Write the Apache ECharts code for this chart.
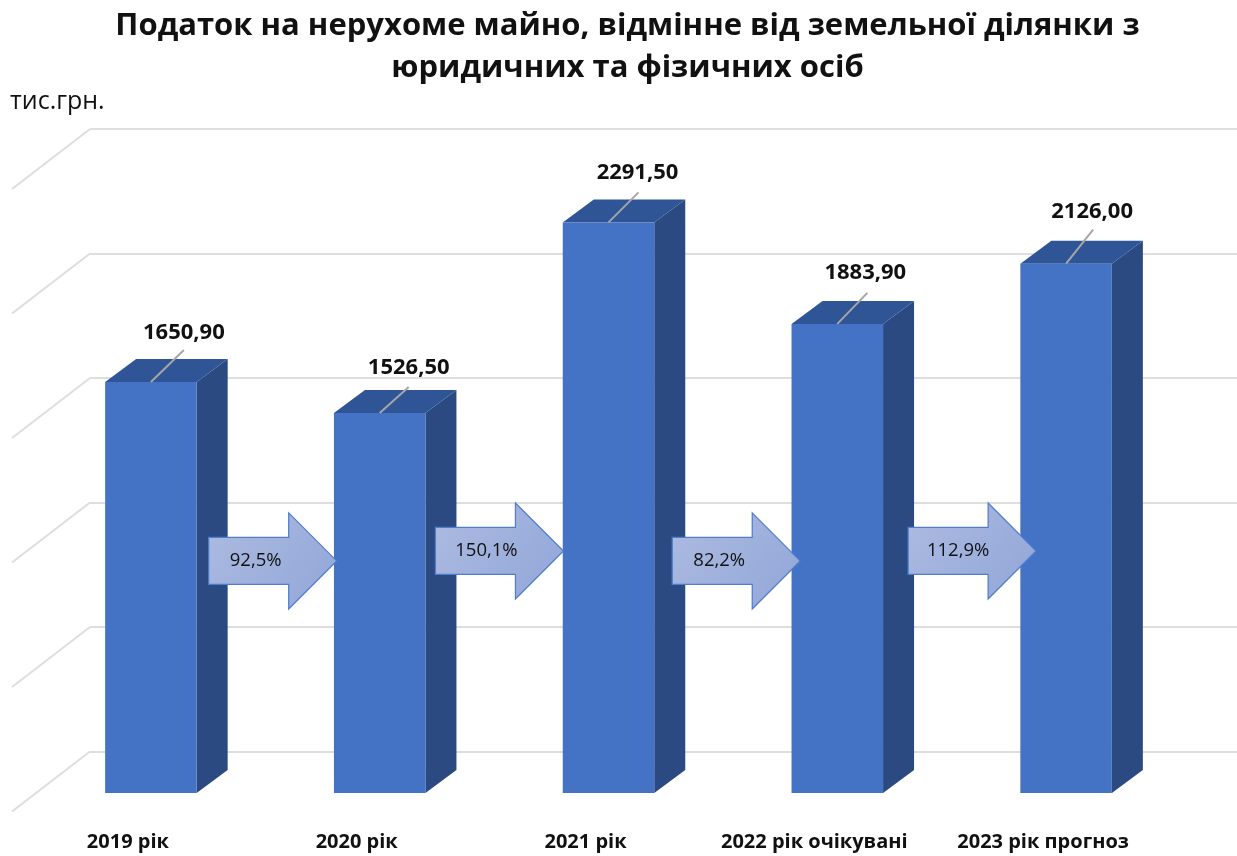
<!DOCTYPE html>
<html><head><meta charset="utf-8">
<style>html,body{margin:0;padding:0;background:#fff}#c{width:1237px;height:856px}</style>
<script src="https://cdn.jsdelivr.net/npm/echarts@6/dist/echarts.min.js"></script>
</head><body><div id="c"></div>
<script>
const categories = ['2019 рік','2020 рік','2021 рік','2022 рік очікувані','2023 рік прогноз'];
const values = [1650.90,1526.50,2291.50,1883.90,2126.00];
const valueLabels = ['1650,90','1526,50','2291,50','1883,90','2126,00'];
const gridTicks = [0,500,1000,1500,2000,2500];
const arrowLabels = ['92,5%','150,1%','82,2%','112,9%'];
const arrowLevels = [932,972,932,972];
const titleText = 'Податок на нерухоме майно, відмінне від земельної ділянки з\nюридичних та фізичних осіб';
const unitText = 'тис.грн.';

// styling / layout helpers (not data)
const FONT = '"Open Sans", sans-serif';
const leaderOffsets = [[33,-32],[29,-26],[30,-30],[30,-31],[27,-34]];
const labelOffsets = [[33,-49],[29,-45],[29,-50],[28,-51],[26,-52]];
const arrowTipFrac = [0.812,0.803,0.838,0.869];
const arrowTextInset = [47,51,47,50];

const chart = echarts.init(document.getElementById('c'), null, {renderer:'canvas'});
chart.setOption({
  animation:false,
  backgroundColor:'#fff',
  title:[
    {text:titleText,left:622.5,top:0,textAlign:'center',
     textStyle:{fontFamily:FONT,fontSize:31,fontWeight:700,color:'#111',lineHeight:42}},
    {text:unitText,left:5,top:84,
     textStyle:{fontFamily:FONT,fontSize:25,fontWeight:400,color:'#111'}}
  ],
  grid:[
    {left:90,right:0,top:129,height:622.5,containLabel:false},
    {left:36.5,width:1144,top:170.5,height:622.5,containLabel:false}
  ],
  xAxis:[
    {gridIndex:0,type:'value',min:0,max:1,show:false},
    {gridIndex:1,type:'category',data:categories,
     axisLine:{show:false},axisTick:{show:false},
     axisLabel:{interval:0,margin:39.5,padding:[0,46,0,0],fontFamily:FONT,fontSize:20,fontWeight:700,color:'#111'}}
  ],
  yAxis:[
    {gridIndex:0,type:'value',min:0,max:2500,interval:500,
     axisLine:{show:false},axisTick:{show:false},axisLabel:{show:false},
     splitLine:{lineStyle:{color:'#DEDEDE',width:2}}},
    {gridIndex:1,type:'value',min:0,max:2500,interval:500,
     axisLine:{show:false},axisTick:{show:false},axisLabel:{show:false},splitLine:{show:false}}
  ],
  series:[
    {type:'custom',xAxisIndex:0,yAxisIndex:0,silent:true,clip:false,
     data:gridTicks.map(t=>[0,t]),
     renderItem(p,api){
       const a=api.coord([0,api.value(1)]);
       return {type:'line',shape:{x1:a[0],y1:a[1],x2:a[0]-78,y2:a[1]+60},
               style:{stroke:'#DEDEDE',lineWidth:2,fill:null}};
     }},
    {type:'custom',xAxisIndex:1,yAxisIndex:1,silent:true,clip:false,
     data:values.map((v,i)=>[i,v]),
     renderItem(p,api){
       const i=api.value(0),v=api.value(1);
       const top=api.coord([i,v]),base=api.coord([i,0]);
       const w=api.size([1,0])[0]*0.4,dx=31,dy=-23;
       const l=top[0]-w/2,r=top[0]+w/2,t=top[1],b=base[1];
       const lo=leaderOffsets[i],to=labelOffsets[i];
       return {type:'group',children:[
         {type:'polygon',shape:{points:[[r,t],[r+dx,t+dy],[r+dx,b+dy],[r,b]]},style:{fill:'#2B4A82'}},
         {type:'polygon',shape:{points:[[l,t],[l+dx,t+dy],[r+dx,t+dy],[r,t]]},style:{fill:'#2F5597'}},
         {type:'rect',shape:{x:l,y:t,width:w,height:b-t},style:{fill:'#4472C4'}},
         {type:'line',shape:{x1:top[0],y1:t,x2:top[0]+lo[0],y2:t+lo[1]},
          style:{stroke:'#A6A6A6',lineWidth:2,fill:null}},
         {type:'text',style:{text:valueLabels[i],x:top[0]+to[0],y:t+to[1],align:'center',verticalAlign:'middle',
          font:'700 22px '+FONT,fill:'#111'}}
       ]};
     }},
    {type:'custom',xAxisIndex:1,yAxisIndex:1,silent:true,clip:false,
     data:arrowLevels.map((v,i)=>[i,v]),
     renderItem(p,api){
       const i=api.value(0),v=api.value(1);
       const c=api.coord([i,v]),band=api.size([1,0])[0];
       const tip=c[0]+arrowTipFrac[i]*band,y=c[1];
       const len=128,head=48,hb=23.5,hh=48;
       const x0=tip-len,xh=tip-head;
       return {type:'group',children:[
         {type:'polygon',shape:{points:[[x0,y-hb],[xh,y-hb],[xh,y-hh],[tip,y],[xh,y+hh],[xh,y+hb],[x0,y+hb]]},
          style:{stroke:'#4F7CCB',lineWidth:1.2,
            fill:new echarts.graphic.LinearGradient(0,0,1,1,[{offset:0,color:'#ADBBE1'},{offset:1,color:'#91A6D8'}])}},
         {type:'text',style:{text:arrowLabels[i],x:x0+arrowTextInset[i],y:y,align:'center',verticalAlign:'middle',
          font:'400 18.5px '+FONT,fill:'#111'}}
       ]};
     }}
  ]
});
</script></body></html>
